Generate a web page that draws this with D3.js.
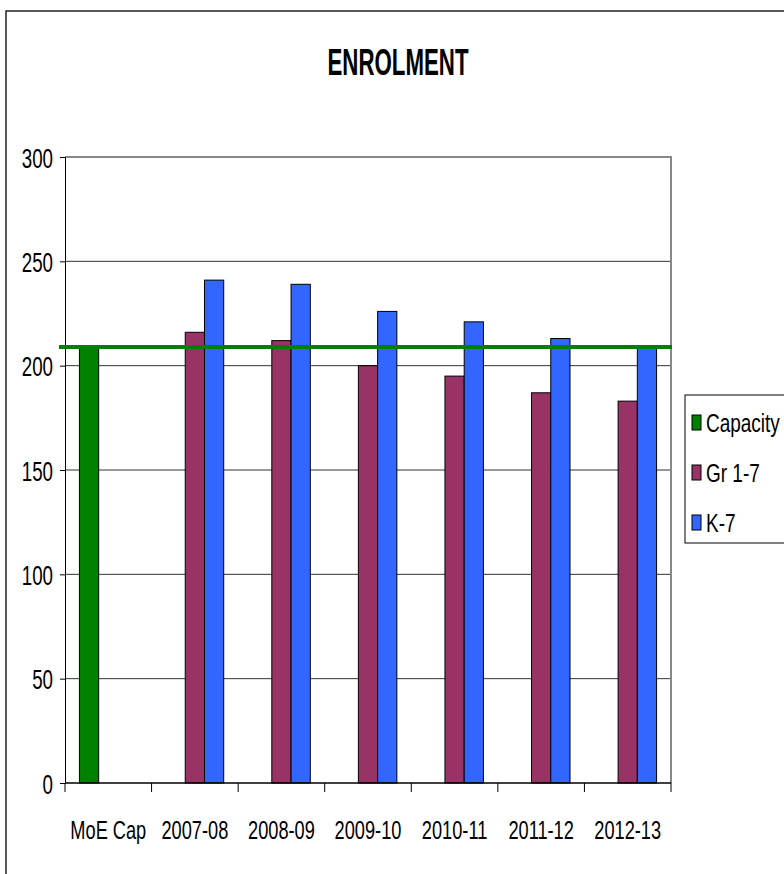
<!DOCTYPE html>
<html>
<head>
<meta charset="utf-8">
<script src="https://cdn.jsdelivr.net/npm/d3@7"></script>
<style>
  body { margin: 0; background: #fff; }
  svg text { font-family: "Liberation Sans", Arial, sans-serif; }
</style>
</head>
<body>
<svg id="chart"></svg>
<script>
// data
const categories = ['MoE Cap', '2007-08', '2008-09', '2009-10', '2010-11', '2011-12', '2012-13'];
const seriesNames = ['Capacity', 'Gr 1-7', 'K-7'];
const capacity = [209, null, null, null, null, null, null];
const gr17 = [null, 216, 212, 200, 195, 187, 183];
const k7 = [null, 241, 239, 226, 221, 213, 209];
const yTicks = [0, 50, 100, 150, 200, 250, 300];
const colors = ['#008000', '#993366', '#3366FF'];

const width = 784;
const height = 874;
const margin = { top: 157, right: 113, bottom: 91, left: 65 };
const innerWidth = width - margin.left - margin.right;
const innerHeight = height - margin.top - margin.bottom;

// squeeze text horizontally to look like a narrow font
function narrow(sel, f) {
  sel.each(function() {
    const w = this.getComputedTextLength();
    d3.select(this)
      .attr('textLength', w * f)
      .attr('lengthAdjust', 'spacingAndGlyphs');
  });
}

const svg = d3.select('#chart')
  .attr('width', width)
  .attr('height', height);

// outer chart frame
svg.append('rect')
  .attr('x', 6).attr('y', 11)
  .attr('width', 900).attr('height', 1000)
  .attr('fill', 'none')
  .attr('stroke', '#222')
  .attr('stroke-width', 1.5);

svg.append('text')
  .attr('x', 398)
  .attr('y', 75)
  .attr('text-anchor', 'middle')
  .style('font-weight', 'bold')
  .style('font-size', '37px')
  .attr('textLength', 141)
  .attr('lengthAdjust', 'spacingAndGlyphs')
  .text('ENROLMENT');

const g = svg.append('g')
  .attr('transform', `translate(${margin.left},${margin.top})`);

const x = d3.scaleBand()
  .domain(categories)
  .range([0, innerWidth]);

const xs = d3.scaleBand()
  .domain(seriesNames)
  .range([0, x.bandwidth()])
  .paddingOuter(0.75);

const y = d3.scaleLinear()
  .domain([0, 300])
  .range([innerHeight, 0]);

// grid
g.append('g')
  .selectAll('line')
  .data(yTicks.filter(d => d > 0 && d < 300))
  .join('line')
  .attr('x1', 0).attr('x2', innerWidth)
  .attr('y1', d => y(d)).attr('y2', d => y(d))
  .attr('stroke', '#333')
  .attr('stroke-width', 1);

// plot area frame top/right
g.append('path')
  .attr('d', `M0,${y(300)}H${innerWidth}V${innerHeight}`)
  .attr('fill', 'none')
  .attr('stroke', '#888')
  .attr('stroke-width', 2);

// bars
const values = [capacity, gr17, k7];
seriesNames.forEach((name, si) => {
  g.append('g')
    .selectAll('rect')
    .data(values[si].map((v, i) => ({ cat: categories[i], v })).filter(d => d.v != null))
    .join('rect')
    .attr('x', d => x(d.cat) + xs(name))
    .attr('y', d => y(d.v))
    .attr('width', xs.bandwidth())
    .attr('height', d => innerHeight - y(d.v))
    .attr('fill', colors[si])
    .attr('stroke', '#000')
    .attr('stroke-width', 1);
});

// axes
const yAxis = g.append('g')
  .call(d3.axisLeft(y).tickValues(yTicks).tickSize(5).tickPadding(7));
yAxis.select('.domain').attr('stroke', '#000');
yAxis.selectAll('text')
  .attr('dy', '0.36em')
  .style('font-size', '28px')
  .attr('fill', '#000')
  .call(narrow, 0.67);

const xAxis = g.append('g')
  .attr('transform', `translate(0,${innerHeight})`)
  .call(d3.axisBottom(x).tickSize(0).tickPadding(0));
xAxis.select('.domain').remove();
xAxis.selectAll('text')
  .attr('y', 56)
  .attr('dy', 0)
  .style('font-size', '26px')
  .attr('fill', '#000')
  .call(narrow, 0.7);

// band boundary ticks on x axis
g.append('g')
  .selectAll('line')
  .data(categories.concat(['end']))
  .join('line')
  .attr('x1', (d, i) => i < categories.length ? x(d) : innerWidth)
  .attr('x2', (d, i) => i < categories.length ? x(d) : innerWidth)
  .attr('y1', innerHeight).attr('y2', innerHeight + 9)
  .attr('stroke', '#000');

g.append('line')
  .attr('x1', 0).attr('x2', innerWidth)
  .attr('y1', innerHeight).attr('y2', innerHeight)
  .attr('stroke', '#000')
  .attr('stroke-width', 1.5);

// capacity line across the plot
g.append('line')
  .attr('x1', -6).attr('x2', innerWidth + 1)
  .attr('y1', y(capacity[0])).attr('y2', y(capacity[0]))
  .attr('stroke', '#008000')
  .attr('stroke-width', 4);

// legend
const legend = svg.append('g')
  .attr('transform', 'translate(685,395)');
legend.append('rect')
  .attr('width', 120).attr('height', 148)
  .attr('fill', '#fff')
  .attr('stroke', '#000')
  .attr('stroke-width', 1);

const item = legend.selectAll('g.item')
  .data(seriesNames)
  .join('g')
  .attr('class', 'item')
  .attr('transform', (d, i) => `translate(0,${27 + i * 50})`);
item.append('rect')
  .attr('x', 7).attr('y', -7)
  .attr('width', 9).attr('height', 15)
  .attr('fill', (d, i) => colors[i])
  .attr('stroke', '#000');
item.append('text')
  .attr('x', 21)
  .attr('y', 10)
  .style('font-size', '26px')
  .text(d => d)
  .call(narrow, 0.73);
</script>
</body>
</html>
